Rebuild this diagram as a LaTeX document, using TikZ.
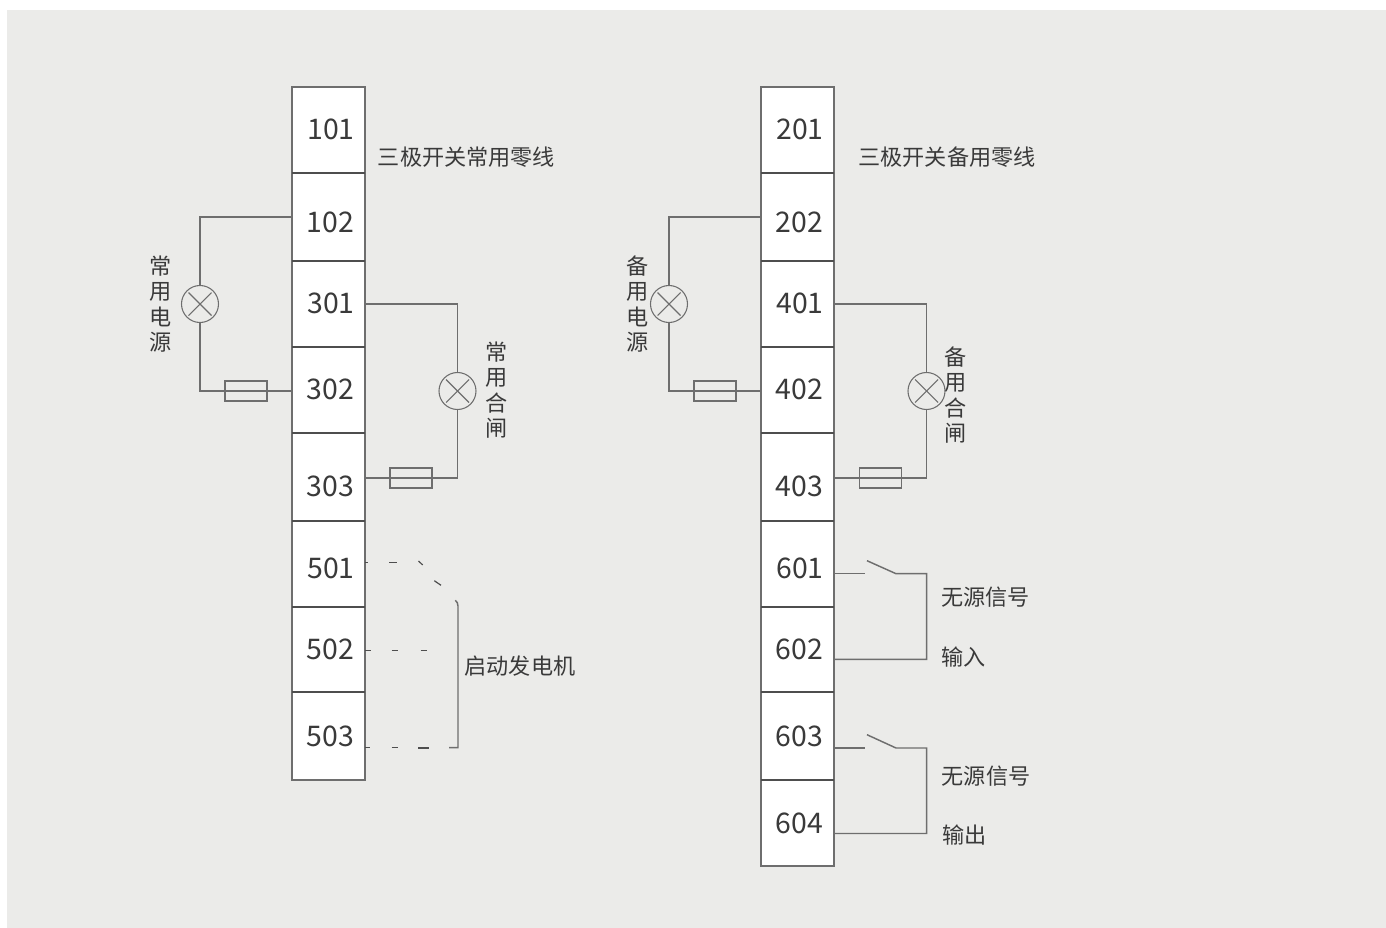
\documentclass[tikz,border=0pt]{standalone}
\usepackage{fontspec}
\setmainfont{Noto Sans CJK SC}
\usetikzlibrary{calc}
\definecolor{bgc}{HTML}{EBEBE9}
\definecolor{linec}{HTML}{6E6E6E}
\definecolor{divc}{HTML}{4E4E4E}
\definecolor{txtc}{HTML}{3A3A3A}
\newlength{\pxu}\setlength{\pxu}{0.75pt}
\tikzset{
  cell/.style={draw=linec,fill=white,line width=1.4pt,minimum width=73\pxu,inner sep=0pt,outer sep=0pt},
  num/.style={text=txtc,font=\fontsize{21.3}{23}\selectfont,inner sep=0pt},
  captext/.style={text=txtc,font=\fontsize{16.6}{19}\selectfont,inner sep=0pt},
  vcap/.style={text=txtc,font=\fontsize{16.6}{19.1}\selectfont,inner sep=0pt,align=center},
  lamp/.style={draw=linec,circle,line width=.8pt,minimum size=37\pxu,inner sep=0pt,outer sep=0pt},
  fuse/.style={draw=linec,rectangle,line width=.8pt,minimum width=42\pxu,minimum height=20\pxu,inner sep=0pt,outer sep=0pt},
  wire/.style={draw=linec,line width=1.1pt},
  thinwire/.style={draw=linec,line width=.8pt},
  dashseg/.style={draw=divc,line width=.9pt},
}
\newcommand{\lampx}[1]{\draw[thinwire] ($(#1)+(-11.5,-11.5)$) -- ($(#1)+(11.5,11.5)$);\draw[thinwire] ($(#1)+(-11.5,11.5)$) -- ($(#1)+(11.5,-11.5)$);}
\newcommand{\divline}[1]{\draw[draw=divc,line width=1.2pt] (#1.south west) -- (#1.south east);}
\begin{document}
\begin{tikzpicture}[x=0.75pt,y=-0.75pt]
\useasboundingbox (0,0) rectangle (1386,928);
\fill[white] (0,0) rectangle (1386,928);
\fill[bgc] (7,10) rectangle (1386,928);
% cells
\foreach \nm/\yt/\yb in {101/87/173,102/173/261,301/261/347,302/347/433,303/433/521,501/521/607,502/607/692,503/692/780}{
  \node[cell,minimum height={(\yb-\yt)*\pxu}] (t\nm) at (328.5,{(\yt+\yb)/2}) {};
}
\foreach \nm/\yt/\yb in {201/87/173,202/173/261,401/261/347,402/347/433,403/433/521,601/521/607,602/607/692,603/692/780,604/780/866}{
  \node[cell,minimum height={(\yb-\yt)*\pxu}] (t\nm) at (797.5,{(\yt+\yb)/2}) {};
}
\foreach \nm in {101,102,301,302,303,501,502,201,202,401,402,403,601,602,603}{\divline{t\nm}}
% numbers
\foreach \nm/\x/\y in {101/331/129.7,102/330.3/222.7,301/331/303.7,302/330.3/389.7,303/330.3/486.7,501/331/568.7,502/330.3/649.7,503/330.3/736.7,
  201/800/129.7,202/799.3/222.7,401/800/303.7,402/799.3/389.7,403/799.3/486.7,601/800/568.7,602/799.3/649.7,603/799.3/736.7,604/799.3/823.7}{
  \node[num] (n\nm) at (\x,\y) {\nm};
}
% captions
\node[captext] (c1) at (466.5,157) {三极开关常用零线};
\node[captext] (c2) at (947,157) {三极开关备用零线};
\node[captext] (c3) at (520,666) {启动发电机};
\node[captext] (c4) at (985.5,597) {无源信号};
\node[captext] (c5) at (963.5,657) {输入};
\node[captext] (c6) at (986,776) {无源信号};
\node[captext] (c7) at (964.5,835) {输出};
\node[vcap] (v1) at (161,304) {常\\用\\电\\源};
\node[vcap] (v2) at (497,390) {常\\用\\合\\闸};
\node[vcap] (v3) at (638,304) {备\\用\\电\\源};
\node[vcap] (v4) at (956,395) {备\\用\\合\\闸};
% lamps and fuses
\node[lamp] (la) at (200,304) {};
\node[lamp] (lb) at (457.5,391) {};
\node[lamp] (lc) at (669,304) {};
\node[lamp] (ld) at (926.5,391) {};
\node[fuse] (fa) at (246,391) {};
\node[fuse] (fb) at (411,478) {};
\node[fuse] (fc) at (715,391) {};
\node[fuse] (fd) at (880.5,478) {};
\foreach \l in {la,lb,lc,ld}{\lampx{\l}}
% circuits
\draw[wire] (t102.west) -| (la.north);
\draw[wire] (la.south) |- ($(t302.west)+(0,1)$);
\draw[wire] (t301.east) -| (lb.north);
\draw[wire] (lb.south) |- ($(t303.east)+(0,1)$);
\draw[wire] (t202.west) -| (lc.north);
\draw[wire] (lc.south) |- ($(t402.west)+(0,1)$);
\draw[wire] (t401.east) -| (ld.north);
\draw[wire] (ld.south) |- ($(t403.east)+(0,1)$);
% dashed start-generator bracket
\coordinate (d1) at (t501.east |- 0,562.7);
\coordinate (d2) at (t502.east |- 0,650.7);
\coordinate (d3) at (t503.east |- 0,747.7);
\draw[dashseg] (d1) -- ++(2.5,0);
\draw[dashseg] ($(d1)+(24,0)$) -- ++(8,0);
\draw[dashseg] (418.5,561) -- (422.7,565);
\draw[dashseg] (434.3,580.7) -- (441,585.3);
\draw[dashseg] (d2) -- ++(6,0);
\draw[dashseg] ($(d2)+(26.5,0)$) -- ++(6.5,0);
\draw[dashseg] ($(d2)+(55.5,0)$) -- ++(6.5,0);
\draw[dashseg] (d3) -- ++(5,0);
\draw[dashseg] ($(d3)+(26.5,0)$) -- ++(6.5,0);
\draw[dashseg,line width=1.3pt] ($(d3)+(53,0)$) -- ++(11,0);
\coordinate (br) at (458,747.7);
\draw[wire] (455.3,600.3) .. controls (457,602) and (458,603) .. (458,606) -- (br) -- ($(d3)+(84,0)$);
% switches
\coordinate (s1) at (t601.east |- 0,573.7);
\coordinate (s2) at (t602.east |- 0,659.4);
\coordinate (s3) at (t603.east |- 0,748);
\coordinate (s4) at (t604.east |- 0,833.5);
\draw[wire] (s1) -- ++(31,0);
\draw[wire] ($(s1)+(33,-13)$) -- ($(s1)+(62,0)$) -- (926.7,573.7) -- (926.7,659.4) -- (s2);
\draw[wire] (s3) -- ++(31,0);
\draw[wire] ($(s3)+(33,-13.3)$) -- ($(s3)+(62,0)$) -- (926.7,748) -- (926.7,833.5) -- (s4);
\end{tikzpicture}
\end{document}
